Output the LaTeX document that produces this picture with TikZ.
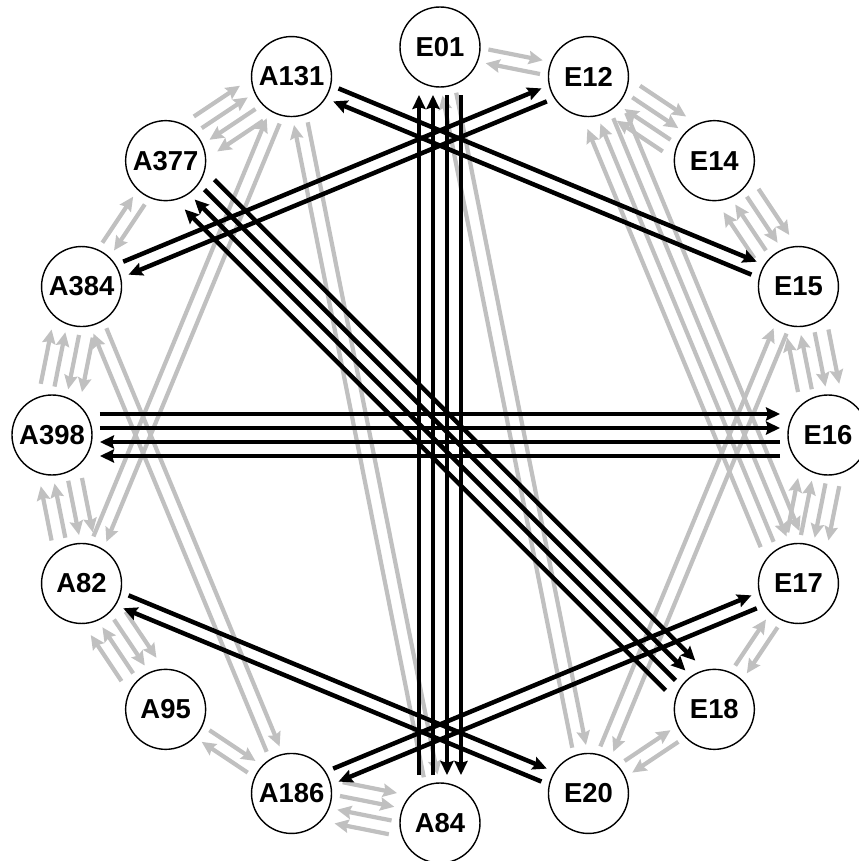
\documentclass[tikz,border=0pt]{standalone}
\usepackage{fontspec}
\setmainfont{Liberation Sans}
\usetikzlibrary{calc, arrows.meta}
\definecolor{linkgray}{HTML}{C0C0C0}

\begin{document}
\begin{tikzpicture}[
    station/.style={draw, circle, line width=1pt, fill=white, minimum size=2cm, inner sep=0pt,
      font=\bfseries\fontsize{19.5}{23}\selectfont},
    mainlink/.style={line width=3.2pt, -{Stealth[length=3.5mm, width=3.3mm, inset=0.5mm]}},
    sidelink/.style={mainlink, line width=3pt, linkgray}
  ]
  \useasboundingbox (-11,-10.65) rectangle (10.475,10.875);

  % stations on the ring
  \foreach \name [count=\i] in {E01,A131,A377,A384,A398,A82,A95,A186,A84,E20,E18,E17,E16,E15,E14,E12}
    \node[station] (\name) at ({67.5+22.5*\i}:9.7) {\name};

  % grey links, two each way
  \foreach \a/\b in {E12/E14, E14/E15, E15/E16, E16/E17, A84/A186, A95/A82, A82/A398, A398/A384, A377/A131, E12/E17}
    \foreach \d in {1.75mm,5.25mm} {
      \draw[sidelink] ($(\a.center)!1.2cm!(\b.center)!\d!90:(\b.center)$) -- ($(\b.center)!1.2cm!(\a.center)!\d!-90:(\a.center)$);
      \draw[sidelink] ($(\b.center)!1.2cm!(\a.center)!\d!90:(\a.center)$) -- ($(\a.center)!1.2cm!(\b.center)!\d!-90:(\b.center)$);
    }
  % grey links, one each way
  \foreach \a/\b in {E01/E12, E17/E18, E18/E20, A186/A95, A384/A377, E01/E20, E15/E20, A131/A84, A131/A82, A384/A186} {
    \draw[sidelink] ($(\a.center)!1.2cm!(\b.center)!1.75mm!90:(\b.center)$) -- ($(\b.center)!1.2cm!(\a.center)!1.75mm!-90:(\a.center)$);
    \draw[sidelink] ($(\b.center)!1.2cm!(\a.center)!1.75mm!90:(\a.center)$) -- ($(\a.center)!1.2cm!(\b.center)!1.75mm!-90:(\b.center)$);
  }

  % black links across the ring
  \foreach \a/\b in {E01/A84, A398/E16, A377/E18}
    \foreach \d in {1.75mm,5.25mm} {
      \draw[mainlink] ($(\a.center)!1.2cm!(\b.center)!\d!90:(\b.center)$) -- ($(\b.center)!1.2cm!(\a.center)!\d!-90:(\a.center)$);
      \draw[mainlink] ($(\b.center)!1.2cm!(\a.center)!\d!90:(\a.center)$) -- ($(\a.center)!1.2cm!(\b.center)!\d!-90:(\b.center)$);
    }
  \foreach \a/\b in {A131/E15, A384/E12, A82/E20, A186/E17} {
    \draw[mainlink] ($(\a.center)!1.2cm!(\b.center)!1.75mm!90:(\b.center)$) -- ($(\b.center)!1.2cm!(\a.center)!1.75mm!-90:(\a.center)$);
    \draw[mainlink] ($(\b.center)!1.2cm!(\a.center)!1.75mm!90:(\a.center)$) -- ($(\a.center)!1.2cm!(\b.center)!1.75mm!-90:(\b.center)$);
  }
\end{tikzpicture}
\end{document}
